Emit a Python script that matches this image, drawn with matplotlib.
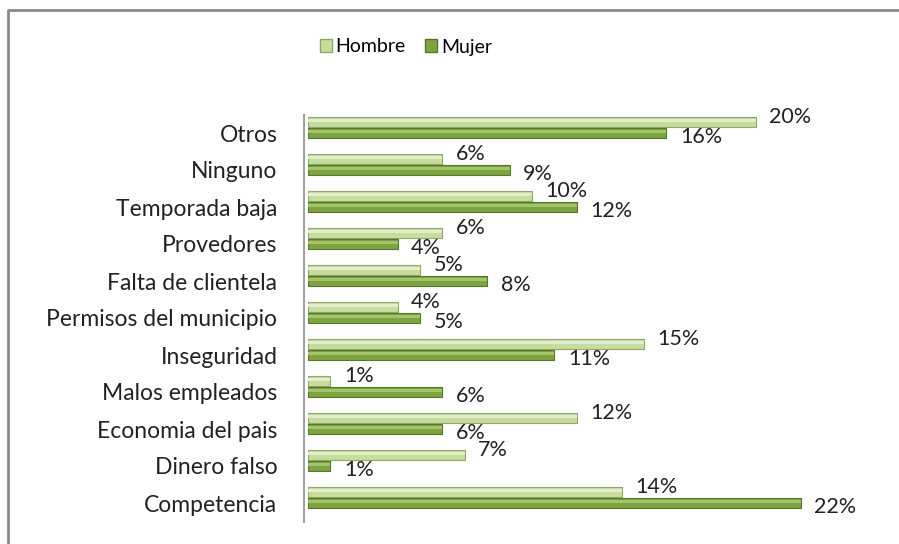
import matplotlib
matplotlib.use("Agg")
import matplotlib.pyplot as plt
from matplotlib.patches import Patch
from matplotlib.lines import Line2D
import numpy as np

plt.rcParams['font.family'] = ['Lato', 'DejaVu Sans']

categories = ["Otros", "Ninguno", "Temporada baja", "Provedores", "Falta de clientela",
              "Permisos del municipio", "Inseguridad", "Malos empleados",
              "Economia del pais", "Dinero falso", "Competencia"]
hombre = [20, 6, 10, 6, 5, 4, 15, 1, 12, 7, 14]
mujer = [16, 9, 12, 4, 8, 5, 11, 6, 6, 1, 22]
series_names = ["Hombre", "Mujer"]

W, H = 899, 544
fig = plt.figure(figsize=(W / 100, H / 100), dpi=100)

# outer chart frame (only left and top edges visible, like the reference)
fx, fy = 8 / W, 1 - 10 / H
fig.add_artist(Line2D([fx, fx, 1.0], [0.0, fy, fy], transform=fig.transFigure,
                      color="#8a8a8a", linewidth=2.0))

ax = fig.add_axes([308 / W, 1 - 521.5 / H, 560 / W, 407 / H])
n = len(categories)
y = np.arange(n)[::-1]

off_h = 0.30
off_m = 0.0
bh = 0.27

c_h, e_h, hl_h = "#c6dd9e", "#8fa86a", "#e2eecb"
c_m, e_m, hl_m = "#7ea442", "#55772a", "#a3c46a"

ax.barh(y + off_h, hombre, height=bh, color=c_h, edgecolor=e_h, linewidth=0.8, zorder=2)
ax.barh(y + off_h + 0.04, hombre, height=bh * 0.35, color=hl_h, linewidth=0, zorder=3)
ax.barh(y + off_m, mujer, height=bh, color=c_m, edgecolor=e_m, linewidth=0.8, zorder=2)
ax.barh(y + off_m + 0.04, mujer, height=bh * 0.35, color=hl_m, linewidth=0, zorder=3)

fs_val = 15.5
fs_cat = 16.5
for yi, v in zip(y, hombre):
    ax.text(v + 0.6, yi + off_h + 0.12, f"{v}%", fontsize=fs_val, color="#222222",
            va="center", ha="left", zorder=4)
for yi, v in zip(y, mujer):
    ax.text(v + 0.6, yi + off_m - 0.12, f"{v}%", fontsize=fs_val, color="#222222",
            va="center", ha="left", zorder=4)

ax.set_xlim(0, 25)
ax.set_ylim(-0.5, n - 0.5)
ax.tick_params(axis="y", length=0, pad=19, labelsize=fs_cat, labelcolor="#222222")
ax.set_yticks(y)
ax.set_yticklabels(categories)
for t in ax.get_yticklabels():
    t.set_fontsize(fs_cat)
ax.set_xticks([])
for s in ["top", "right", "bottom"]:
    ax.spines[s].set_visible(False)
ax.spines["left"].set_color("#a0a0a0")
ax.spines["left"].set_linewidth(1.5)
ax.spines["left"].set_position(("outward", 3))

# legend
handles = [Patch(facecolor=c_h, edgecolor=e_h), Patch(facecolor=c_m, edgecolor=e_m)]
fig.legend(handles, series_names, loc="center", bbox_to_anchor=(406 / W, 1 - 47 / H),
           ncol=2, frameon=False, fontsize=14, handlelength=0.6, handleheight=0.6,
           handletextpad=0.2, columnspacing=1.0)

fig.savefig("out.png", dpi=100, facecolor="white")
